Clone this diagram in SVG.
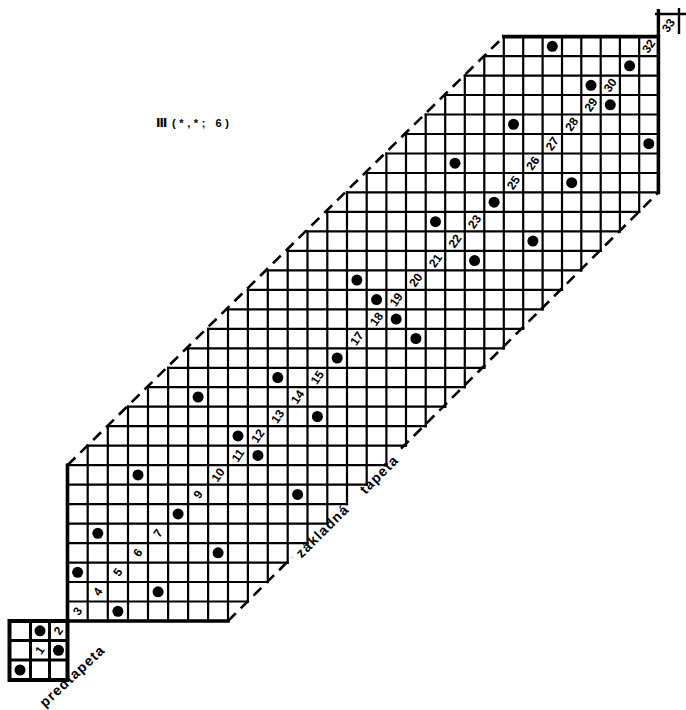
<svg xmlns="http://www.w3.org/2000/svg" width="686" height="710" viewBox="0 0 686 710">
<style>
.grid{fill:none;stroke:#000;stroke-width:2.2;stroke-linecap:square}
.border{fill:none;stroke:#000;stroke-width:3.6;stroke-linecap:square;stroke-linejoin:miter}
.dash{fill:none;stroke:#000;stroke-width:2.6;stroke-dasharray:11 7}
.dot{fill:#000}
.num{font-family:"Liberation Sans",Arial,sans-serif;font-weight:bold;font-size:12px;text-anchor:middle;dominant-baseline:central;fill:#000}
.lbl{font-family:"Liberation Sans",Arial,sans-serif;font-weight:bold;font-size:14px;letter-spacing:1.2px;fill:#000}
</style>
<rect width="686" height="710" fill="#fff"/>

<g id="title">
<text x="156" y="127" font-family="DejaVu Sans,sans-serif" font-weight="bold" font-size="12">Ⅲ</text>
<text x="172" y="127" font-family="Liberation Sans,Arial,sans-serif" font-weight="bold" font-size="11" letter-spacing="3.6">(*,*; 6)</text>
</g>

<g id="main-grid">
<path class="grid" d="M67.5 601.5H247.9M67.5 582H267.8M67.5 562.6H287.7M67.5 543.1H307.5M67.5 523.6H327.3M67.5 504.1H347M67.5 484.6H366.7M67.5 465.2H386.4M87.7 445.7H406M107.8 426.2H425.7M128 406.7H445.2M148 387.2H464.8M168.1 367.8H484.3M188.1 348.3H503.8M208.1 328.8H523.2M228 309.3H542.6M247.9 289.8H562M267.8 270.4H581.3M287.7 250.9H600.7M307.5 231.4H619.9M327.3 211.9H639.2M347 192.4H658.4M366.7 173H658.4M386.4 153.5H658.4M406 134H658.4M425.7 114.5H658.4M445.2 95H658.4M464.8 75.6H658.4M484.3 56.1H658.4"/>
<path class="grid" d="M87.7 621V445.7M107.8 621V426.2M128 621V406.7M148 621V387.2M168.1 621V367.8M188.1 621V348.3M208.1 621V328.8M228 621V309.3M247.9 601.5V289.8M267.8 582V270.4M287.7 562.6V250.9M307.5 543.1V231.4M327.3 523.6V211.9M347 504.1V192.4M366.7 484.6V173M386.4 465.2V153.5M406 445.7V134M425.7 426.2V114.5M445.2 406.7V95M464.8 387.2V75.6M484.3 367.8V56.1M503.8 348.3V36.6M523.2 328.8V36.6M542.6 309.3V36.6M562 289.8V36.6M581.3 270.4V36.6M600.7 250.9V36.6M619.9 231.4V36.6M639.2 211.9V36.6"/>
<path class="border" d="M228 621H67.5V465.2M503.8 36.6H658.4V192.4"/>
</g>

<g id="edges">
<path class="dash" d="M67.5 465.2L503.8 36.6"/>
<path class="dash" d="M228 621L292 557.3"/>
<path class="dash" d="M401 448.7L658.4 192.4"/>
</g>

<g id="dots">
<circle class="dot" cx="117.9" cy="611.3" r="5.5"/>
<circle class="dot" cx="158.1" cy="591.8" r="5.5"/>
<circle class="dot" cx="77.6" cy="572.3" r="5.5"/>
<circle class="dot" cx="218.1" cy="552.8" r="5.5"/>
<circle class="dot" cx="97.8" cy="533.3" r="5.5"/>
<circle class="dot" cx="178.1" cy="513.9" r="5.5"/>
<circle class="dot" cx="297.6" cy="494.4" r="5.5"/>
<circle class="dot" cx="138" cy="474.9" r="5.5"/>
<circle class="dot" cx="257.9" cy="455.4" r="5.5"/>
<circle class="dot" cx="238" cy="435.9" r="5.5"/>
<circle class="dot" cx="317.4" cy="416.5" r="5.5"/>
<circle class="dot" cx="198.1" cy="397" r="5.5"/>
<circle class="dot" cx="277.8" cy="377.5" r="5.5"/>
<circle class="dot" cx="337.2" cy="358" r="5.5"/>
<circle class="dot" cx="415.9" cy="338.5" r="5.5"/>
<circle class="dot" cx="396.2" cy="319.1" r="5.5"/>
<circle class="dot" cx="376.6" cy="299.6" r="5.5"/>
<circle class="dot" cx="356.9" cy="280.1" r="5.5"/>
<circle class="dot" cx="474.6" cy="260.6" r="5.5"/>
<circle class="dot" cx="532.9" cy="241.1" r="5.5"/>
<circle class="dot" cx="435.5" cy="221.7" r="5.5"/>
<circle class="dot" cx="494.1" cy="202.2" r="5.5"/>
<circle class="dot" cx="571.7" cy="182.7" r="5.5"/>
<circle class="dot" cx="455" cy="163.2" r="5.5"/>
<circle class="dot" cx="648.8" cy="143.7" r="5.5"/>
<circle class="dot" cx="513.5" cy="124.3" r="5.5"/>
<circle class="dot" cx="610.3" cy="104.8" r="5.5"/>
<circle class="dot" cx="591" cy="85.3" r="5.5"/>
<circle class="dot" cx="629.6" cy="65.8" r="5.5"/>
<circle class="dot" cx="552.3" cy="46.3" r="5.5"/>
</g>

<g id="numbers">
<text class="num" transform="translate(77.6,611.3) rotate(-55)">3</text>
<text class="num" transform="translate(97.8,591.8) rotate(-55)">4</text>
<text class="num" transform="translate(117.9,572.3) rotate(-55)">5</text>
<text class="num" transform="translate(138,552.8) rotate(-55)">6</text>
<text class="num" transform="translate(158.1,533.3) rotate(-55)">7</text>
<text class="num" transform="translate(198.1,494.4) rotate(-55)">9</text>
<text class="num" transform="translate(218.1,474.9) rotate(-55)">10</text>
<text class="num" transform="translate(238,455.4) rotate(-55)">11</text>
<text class="num" transform="translate(257.9,435.9) rotate(-55)">12</text>
<text class="num" transform="translate(277.8,416.5) rotate(-55)">13</text>
<text class="num" transform="translate(297.6,397) rotate(-55)">14</text>
<text class="num" transform="translate(317.4,377.5) rotate(-55)">15</text>
<text class="num" transform="translate(356.9,338.5) rotate(-55)">17</text>
<text class="num" transform="translate(376.6,319.1) rotate(-55)">18</text>
<text class="num" transform="translate(396.2,299.6) rotate(-55)">19</text>
<text class="num" transform="translate(415.9,280.1) rotate(-55)">20</text>
<text class="num" transform="translate(435.5,260.6) rotate(-55)">21</text>
<text class="num" transform="translate(455,241.1) rotate(-55)">22</text>
<text class="num" transform="translate(474.6,221.7) rotate(-55)">23</text>
<text class="num" transform="translate(513.5,182.7) rotate(-55)">25</text>
<text class="num" transform="translate(532.9,163.2) rotate(-55)">26</text>
<text class="num" transform="translate(552.3,143.7) rotate(-55)">27</text>
<text class="num" transform="translate(571.7,124.3) rotate(-55)">28</text>
<text class="num" transform="translate(591,104.8) rotate(-55)">29</text>
<text class="num" transform="translate(610.3,85.3) rotate(-55)">30</text>
<text class="num" transform="translate(648.8,46.3) rotate(-55)">32</text>
</g>

<g id="predtapeta-square">
<path fill="none" stroke="#000" stroke-width="3" d="M30.5 621V680M49.5 621V680M9.5 640.5H67.5M9.5 660H67.5"/>
<rect x="9.5" y="621" width="58" height="59" fill="none" stroke="#000" stroke-width="4"/>
<circle class="dot" cx="40" cy="630.8" r="5.5"/>
<circle class="dot" cx="58.5" cy="650.3" r="5.5"/>
<circle class="dot" cx="20" cy="670" r="5.5"/>
<text class="num" transform="translate(58.5,630.8) rotate(-55)">2</text>
<text class="num" transform="translate(40,650.3) rotate(-55)">1</text>
</g>

<g id="corner-cell">
<path fill="none" stroke="#000" stroke-width="3.4" d="M658.4 36.6V9"/>
<path fill="none" stroke="#000" stroke-width="2.4" d="M655 14H686M679 8V34"/>
<text class="num" font-size="10" transform="translate(668.5,25.5) rotate(-55)">33</text>
</g>

<g id="labels">
<text class="lbl" font-size="12" letter-spacing="1.3" transform="translate(45,708) rotate(-43)">predtapeta</text>
<text class="lbl" transform="translate(301.4,558.7) rotate(-44.88)">základná</text>
<text class="lbl" transform="translate(365.4,495) rotate(-44.88)">tapeta</text>
</g>
</svg>
